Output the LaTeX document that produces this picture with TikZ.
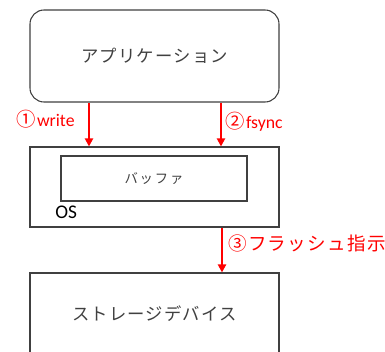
\documentclass[tikz,border=0pt]{standalone}
\usepackage{fontspec}
\setmainfont{Carlito}
\newfontfamily\jp{Noto Sans CJK JP}
\usetikzlibrary{arrows.meta}
\definecolor{boxline}{HTML}{404040}
\definecolor{jptext}{HTML}{404040}
\definecolor{arrred}{HTML}{FF0000}
\tikzset{
  box/.style={draw=boxline, line width=0.8pt, rectangle, inner sep=0pt, minimum width=186.75pt},
  arr/.style={draw=arrred, line width=1.5pt, -{Triangle[length=6pt,width=6pt]}},
  lbl/.style={text=arrred, inner sep=0pt, font=\fontsize{13.3pt}{15pt}\selectfont},
}
\newcommand{\circnum}[2]{\makebox[#1][l]{\jp\fontsize{14.5pt}{16pt}\selectfont #2}}
\begin{document}
\begin{tikzpicture}[x=0.75pt,y=-0.75pt]
\useasboundingbox (0,0) rectangle (385,352);
\fill[white] (0,0) rectangle (385,352);
% boxes
\node[box, rounded corners=10.5pt, minimum height=69pt, text=jptext,
      font=\jp\fontsize{13pt}{15pt}\selectfont\addfontfeature{LetterSpace=7}] (app) at (154.5,56) {アプリケーション};
\node[box, minimum height=60pt] (os) at (154.5,187) {};
\node[box, minimum width=139.5pt, minimum height=33.75pt, text=jptext,
      font=\jp\fontsize{10pt}{12pt}\selectfont\addfontfeature{LetterSpace=14}] (buf) at (154,178.5) {バッファ};
\node[anchor=base west, inner sep=0pt, font=\fontsize{14.5pt}{16pt}\selectfont, text=black] (oslbl) at (55,219) {OS};
\node[box, minimum height=61.5pt, text=jptext,
      font=\jp\fontsize{13pt}{15pt}\selectfont\addfontfeature{LetterSpace=7}] (sto) at (154.5,314) {ストレージデバイス};
% arrows
\coordinate (c1) at (89,0);
\coordinate (c2) at (221,0);
\coordinate (c3) at (222,0);
\draw[arr] (c1 |- app.south) -- (c1 |- os.north);
\draw[arr] (c2 |- app.south) -- (c2 |- os.north);
\draw[arr] (c3 |- os.south) -- (c3 |- sto.north);
% labels
\node[lbl, anchor=base west] (l1) at (16,126.5) {\circnum{15.6pt}{①}write};
\node[lbl, anchor=base west] (l2) at (225,128.5) {\circnum{15.6pt}{②}fsync};
\node[lbl, anchor=base west, font=\jp\fontsize{13.9pt}{16pt}\selectfont\addfontfeature{LetterSpace=7}] (l3) at (228,251) {③フラッシュ指示};
\end{tikzpicture}
\end{document}
